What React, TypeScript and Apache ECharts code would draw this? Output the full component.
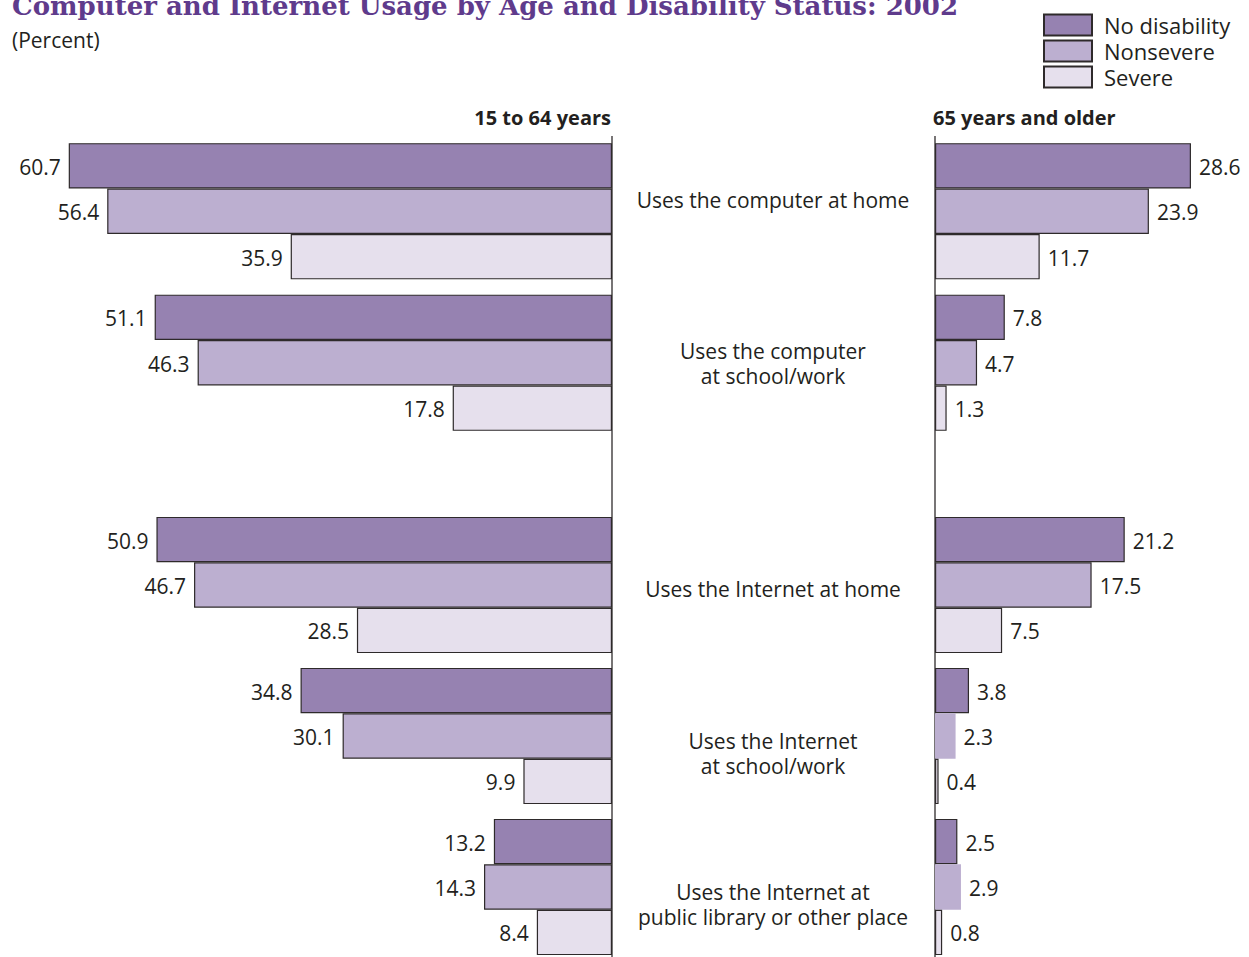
import React, { useEffect, useRef } from "react";
import * as echarts from "echarts";

const categories = [
  "Uses the computer at home",
  "Uses the computer\nat school/work",
  "Uses the Internet at home",
  "Uses the Internet\nat school/work",
  "Uses the Internet at\npublic library or other place",
];
const seriesNames = ["No disability", "Nonsevere", "Severe"];
const panelTitles = ["15 to 64 years", "65 years and older"];

// 15 to 64 years
const youngNoDisability = [60.7, 51.1, 50.9, 34.8, 13.2];
const youngNonsevere = [56.4, 46.3, 46.7, 30.1, 14.3];
const youngSevere = [35.9, 17.8, 28.5, 9.9, 8.4];
// 65 years and older
const oldNoDisability = [28.6, 7.8, 21.2, 3.8, 2.5];
const oldNonsevere = [23.9, 4.7, 17.5, 2.3, 2.9];
const oldSevere = [11.7, 1.3, 7.5, 0.4, 0.8];

const COLORS = ["#9682b1", "#bcafd0", "#e6e0ed"];
const TEXT = "#231f20";
const FONT = "'Open Sans', 'DejaVu Sans', sans-serif";
const SCALE = 8.95; // px per percent
const LEFT_AXIS_X = 612;
const RIGHT_AXIS_X = 935;
const LEFT_MAX = 68;
const RIGHT_MAX = 30;

// bar segments without outline in the original
const borderless: Record<string, number[]> = { "old-1": [3, 4] };

export default function App() {
  const ref = useRef<HTMLDivElement>(null);
  useEffect(() => {
    if (!ref.current) return;
    const chart = echarts.init(ref.current, undefined, { renderer: "svg" });

    const blocks = [
      { start: 0, end: 2, top: 135.5, height: 303 },
      { start: 2, end: 5, top: 509.5, height: 453 },
    ];
    const panels = [
      {
        key: "young",
        vals: [youngNoDisability, youngNonsevere, youngSevere],
        left: LEFT_AXIS_X - LEFT_MAX * SCALE,
        width: LEFT_MAX * SCALE,
        max: LEFT_MAX,
        inverse: true,
        pos: "left",
      },
      {
        key: "old",
        vals: [oldNoDisability, oldNonsevere, oldSevere],
        left: RIGHT_AXIS_X,
        width: RIGHT_MAX * SCALE,
        max: RIGHT_MAX,
        inverse: false,
        pos: "right",
      },
    ];

    const grid: any[] = [];
    const xAxis: any[] = [];
    const yAxis: any[] = [];
    const series: any[] = [];
    let gi = 0;
    panels.forEach((p) => {
      blocks.forEach((b) => {
        grid.push({ left: p.left, width: p.width, top: b.top, height: b.height, containLabel: false });
        xAxis.push({ type: "value", gridIndex: gi, min: 0, max: p.max, inverse: p.inverse, show: false });
        yAxis.push({
          type: "category",
          gridIndex: gi,
          inverse: true,
          data: categories.slice(b.start, b.end),
          show: false,
        });
        p.vals.forEach((arr, si) => {
          const nb = borderless[`${p.key}-${si}`] || [];
          series.push({
            type: "bar",
            name: seriesNames[si],
            xAxisIndex: gi,
            yAxisIndex: gi,
            barWidth: 45.4,
            barGap: "0%",
            itemStyle: { color: COLORS[si], borderColor: "#2e2a2b", borderWidth: 1.2 },
            label: {
              show: true,
              position: p.pos,
              distance: 8,
              offset: [0, 1],
              color: TEXT,
              fontFamily: FONT,
              fontSize: 21,
              formatter: (d: any) => Number(d.value).toFixed(1),
            },
            data: arr.slice(b.start, b.end).map((v, k) =>
              nb.includes(b.start + k) ? { value: v, itemStyle: { borderWidth: 0 } } : v
            ),
          });
        });
        gi++;
      });
    });

    const labelPos = [
      { x: 773, y: 200 },
      { x: 773, y: 363.5 },
      { x: 773, y: 589 },
      { x: 773, y: 753.5 },
      { x: 773, y: 904.5 },
    ];

    const graphic: any[] = [
      {
        type: "text",
        x: 12,
        y: 6,
        style: {
          text: "Computer and Internet Usage by Age and Disability Status: 2002",
          fill: "#5f3b8c",
          fontFamily: "'DejaVu Serif', serif",
          fontWeight: "bold",
          fontSize: 26,
          textAlign: "left",
          textVerticalAlign: "middle",
        },
      },
      {
        type: "text",
        x: 12,
        y: 40,
        style: { text: "(Percent)", fill: TEXT, fontFamily: FONT, fontSize: 21, textAlign: "left", textVerticalAlign: "middle" },
      },
      {
        type: "text",
        x: 611,
        y: 117,
        style: { text: panelTitles[0], fill: TEXT, fontFamily: FONT, fontWeight: "bold", fontSize: 20, textAlign: "right", textVerticalAlign: "middle" },
      },
      {
        type: "text",
        x: 933,
        y: 117,
        style: { text: panelTitles[1], fill: TEXT, fontFamily: FONT, fontWeight: "bold", fontSize: 20, textAlign: "left", textVerticalAlign: "middle" },
      },
      {
        type: "line",
        shape: { x1: LEFT_AXIS_X, y1: 136, x2: LEFT_AXIS_X, y2: 957 },
        style: { stroke: "#2e2a2b", lineWidth: 1.3 },
      },
      {
        type: "line",
        shape: { x1: RIGHT_AXIS_X, y1: 136, x2: RIGHT_AXIS_X, y2: 957 },
        style: { stroke: "#2e2a2b", lineWidth: 1.3 },
      },
      ...categories.map((c, i) => ({
        type: "text",
        x: labelPos[i].x,
        y: labelPos[i].y,
        style: {
          text: c,
          fill: TEXT,
          fontFamily: FONT,
          fontSize: 21,
          lineHeight: 25,
          textAlign: "center",
          textVerticalAlign: "middle",
        },
      })),
    ];

    chart.setOption({
      animation: false,
      backgroundColor: "#ffffff",
      legend: {
        data: seriesNames,
        orient: "vertical",
        left: 1043,
        top: 13.5,
        padding: 0,
        itemWidth: 48,
        itemHeight: 21,
        itemGap: 3,
        icon: "rect",
        selectedMode: false,
        textStyle: { fontFamily: FONT, fontSize: 22, lineHeight: 21, color: TEXT, padding: [0, 0, 0, 7] },
      },
      grid,
      xAxis,
      yAxis,
      series,
      graphic,
    });
    return () => chart.dispose();
  }, []);
  return (
    <div style={{ position: "absolute", left: 0, top: 0, width: 1249, height: 957, overflow: "hidden" }}>
      <div ref={ref} style={{ width: 1249, height: 990 }} />
    </div>
  );
}
